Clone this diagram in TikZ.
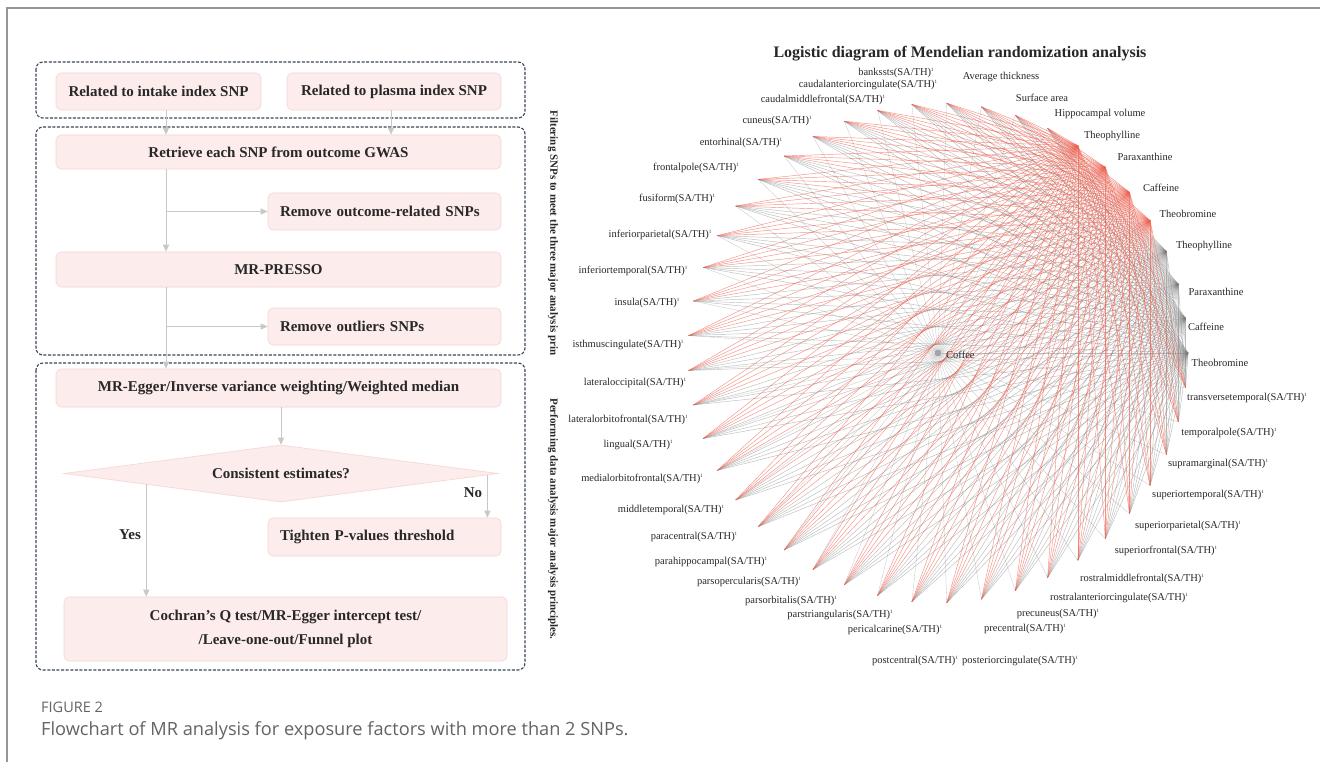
\documentclass[tikz,border=0pt]{standalone}
\usepackage{fontspec}
\setmainfont{Liberation Serif}
\newfontfamily\capfont{Open Sans}
\usetikzlibrary{shapes.geometric, arrows.meta, calc}
\definecolor{boxfill}{RGB}{252,236,235}
\definecolor{boxline}{RGB}{245,214,212}
\definecolor{grpline}{RGB}{58,70,88}
\definecolor{arrgray}{RGB}{200,200,200}
\definecolor{netred}{RGB}{238,100,84}
\definecolor{netgray}{RGB}{125,125,125}
\definecolor{labtxt}{RGB}{40,40,40}
\definecolor{capgray}{RGB}{100,100,100}
\definecolor{framegray}{RGB}{150,150,150}
\newcommand{\satx}{(SA/TH)\raisebox{0.45em}{\fontsize{5}{5}\selectfont 1}}

\begin{document}
\begin{tikzpicture}[x=1pt, y=-1pt,
  box/.style={rectangle, rounded corners=5pt, draw=boxline, fill=boxfill, line width=0.6pt, inner sep=0pt, align=center, text=labtxt, font=\bfseries\fontsize{15}{24}\selectfont},
  sbox/.style={box, text width=209pt, align=left, inner xsep=12pt, minimum height=37pt},
  dec/.style={diamond, aspect=7.6, draw=boxline, fill=boxfill, line width=0.6pt, inner sep=0pt, minimum width=434pt, minimum height=57pt, text=labtxt, font=\bfseries\fontsize{15}{17}\selectfont},
  grp/.style={draw=grpline, line width=1.1pt, dash pattern=on 3pt off 1.6pt, rounded corners=7pt},
  arr/.style={-{Triangle[length=7pt,width=6pt]}, line width=0.9pt, arrgray},
  yn/.style={text=labtxt, font=\bfseries\fontsize{15}{17}\selectfont},
  side/.style={rotate=-90, text=labtxt, font=\bfseries\fontsize{11}{13}\selectfont},
  ttl/.style={text=black!85, font=\bfseries\fontsize{16}{18}\selectfont},
  nlab/.style={text=labtxt, inner sep=0pt, font=\fontsize{10.5}{12}\selectfont},
  redge/.style={netred, line width=0.45pt, opacity=0.7},
  gedge/.style={netgray, line width=0.45pt, opacity=0.5},
  spoke/.style={netgray, line width=0.3pt, opacity=0.45},
  capA/.style={text=capgray, inner sep=0pt, font=\capfont\fontsize{14.5}{16}\selectfont},
  capB/.style={text=capgray, inner sep=0pt, font=\capfont\fontsize{18.2}{20}\selectfont}
]
\useasboundingbox (0,0) rectangle (1320,762);
\fill[white] (0,0) rectangle (1320,762);
\draw[framegray, line width=1.2pt] (7,762) -- (7,8) -- (1320,8);

% flowchart groups
\draw[grp] (36,62) rectangle (525,118);
\draw[grp] (36,127) rectangle (525,355);
\draw[grp] (36,363) rectangle (525,670);

% flowchart steps
\node[box, minimum width=205pt, minimum height=37pt] (intake) at (158.5,91.5) {Related to intake index SNP};
\node[box, minimum width=214pt, minimum height=37pt] (plasma) at (394,91.5) {Related to plasma index SNP};
\node[box, minimum width=445pt, minimum height=34pt] (retr) at (278.5,152) {Retrieve each SNP from outcome GWAS};
\node[sbox] (rmout) at (384.5,211.5) {Remove outcome-related SNPs};
\node[box, minimum width=445pt, minimum height=35pt] (presso) at (278.5,269.5) {MR-PRESSO};
\node[sbox] (rmoutl) at (384.5,326.5) {Remove outliers SNPs};
\node[box, minimum width=445pt, minimum height=38pt] (egger) at (278.5,388) {MR-Egger/Inverse variance weighting/Weighted median};
\node[dec] (dia) at (281,473.5) {Consistent estimates?};
\node[sbox, minimum height=38pt] (tight) at (384.5,537) {Tighten P-values threshold};
\node[box, minimum width=443pt, minimum height=64pt] (coch) at (285.5,629) {Cochran's Q test/MR-Egger intercept test/\\/Leave-one-out/Funnel plot};

\coordinate (colL) at (166,0);
\coordinate (colR) at (391,0);
\coordinate (yesA) at ($(dia.west)!0.38!(dia.south)$);
\coordinate (noA) at ($(dia.east)!0.05!(dia.south)$);
\draw[arr] (intake.south -| colL) -- (retr.north -| colL);
\draw[arr] (plasma.south -| colR) -- (retr.north -| colR);
\draw[arr] (retr.south -| colL) -- (presso.north -| colL);
\draw[arr] (colL |- rmout.west) -- (rmout.west);
\draw[arr] (presso.south -| colL) -- (egger.north -| colL);
\draw[arr] (colL |- rmoutl.west) -- (rmoutl.west);
\draw[arr] (egger.south -| dia.north) -- (dia.north);
\draw[arr] (yesA) -- (yesA |- coch.north);
\draw[arr] (noA) -- (noA |- tight.north);
\node[yn] (yes) at (130,535) {Yes};
\node[yn] (no) at (473,493) {No};

\node[side] (sideA) at (553,233) {Filtering SNPs to meet the three major analysis prin};
\node[side] (sideB) at (553,519) {Performing data analysis major analysis principles.};

% network
\node[ttl] (title) at (960,54) {Logistic diagram of Mendelian randomization analysis};
\begin{scope}[shift={(938,353)}, x=1pt, y=1pt]
  \foreach \k in {0,...,44} \coordinate (n\k) at (8*\k:250);
  \node[circle, fill=netgray!70, inner sep=0pt, minimum size=7pt] (coffee) at (0,0) {};
  \foreach \k in {0,...,44} \draw[spoke] (coffee) -- (n\k);
  % exposures 0-3 gray, 4-7 red; outcomes 8-44
  \foreach \m in {0,...,3} \foreach \o in {8,...,44} \draw[gedge] (n\m) -- (n\o);
  \foreach \m in {4,...,7} \foreach \o in {8,...,44} \draw[redge] (n\m) -- (n\o);
\end{scope}
\node[nlab, anchor=west] (coffeelab) at (946,355) {Coffee};

\foreach \x/\y/\t [count=\i] in {
  896/73/bankssts, 868/85/caudalanteriorcingulate, 823/100/caudalmiddlefrontal,
  777/121/cuneus, 741/143/entorhinal, 696/168/frontalpole, 677/199/fusiform,
  660/235/inferiorparietal, 633/271/inferiortemporal, 647/303/insula,
  628/345/isthmuscingulate, 635/383/lateraloccipital, 628/420/lateralorbitofrontal,
  638/445/lingual, 642/479/medialorbitofrontal, 671/510/middletemporal,
  694/537/paracentral, 711/562/parahippocampal, 749/582/parsopercularis,
  791/601/parsorbitalis, 840/615/parstriangularis, 895/630/pericalcarine,
  915/661/postcentral, 1020/661/posteriorcingulate, 1025/629/precentral,
  1058/614/precuneus, 1119/598/rostralanteriorcingulate, 1142/579/rostralmiddlefrontal,
  1166/551/superiorfrontal, 1188/526/superiorparietal, 1208/495/superiortemporal,
  1218/464/supramarginal, 1229/433/temporalpole, 1247/398/transversetemporal}
  \node[nlab] (reg\i) at (\x,\y) {\t\satx};

\foreach \x/\y/\t [count=\i] in {
  1001/77/Average thickness, 1042/98/Surface area, 1100/114/Hippocampal volume,
  1112/136/Theophylline, 1145/157/Paraxanthine, 1161/188/Caffeine, 1188/214/Theobromine,
  1204/246/Theophylline, 1216/292/Paraxanthine, 1206/327/Caffeine, 1220/363/Theobromine}
  \node[nlab] (met\i) at (\x,\y) {\t};

% caption
\node[capA, anchor=base west] (figno) at (41,712) {FIGURE 2};
\node[capB, anchor=base west] (figcap) at (41,735) {Flowchart of MR analysis for exposure factors with more than 2 SNPs.};
\end{tikzpicture}
\end{document}
